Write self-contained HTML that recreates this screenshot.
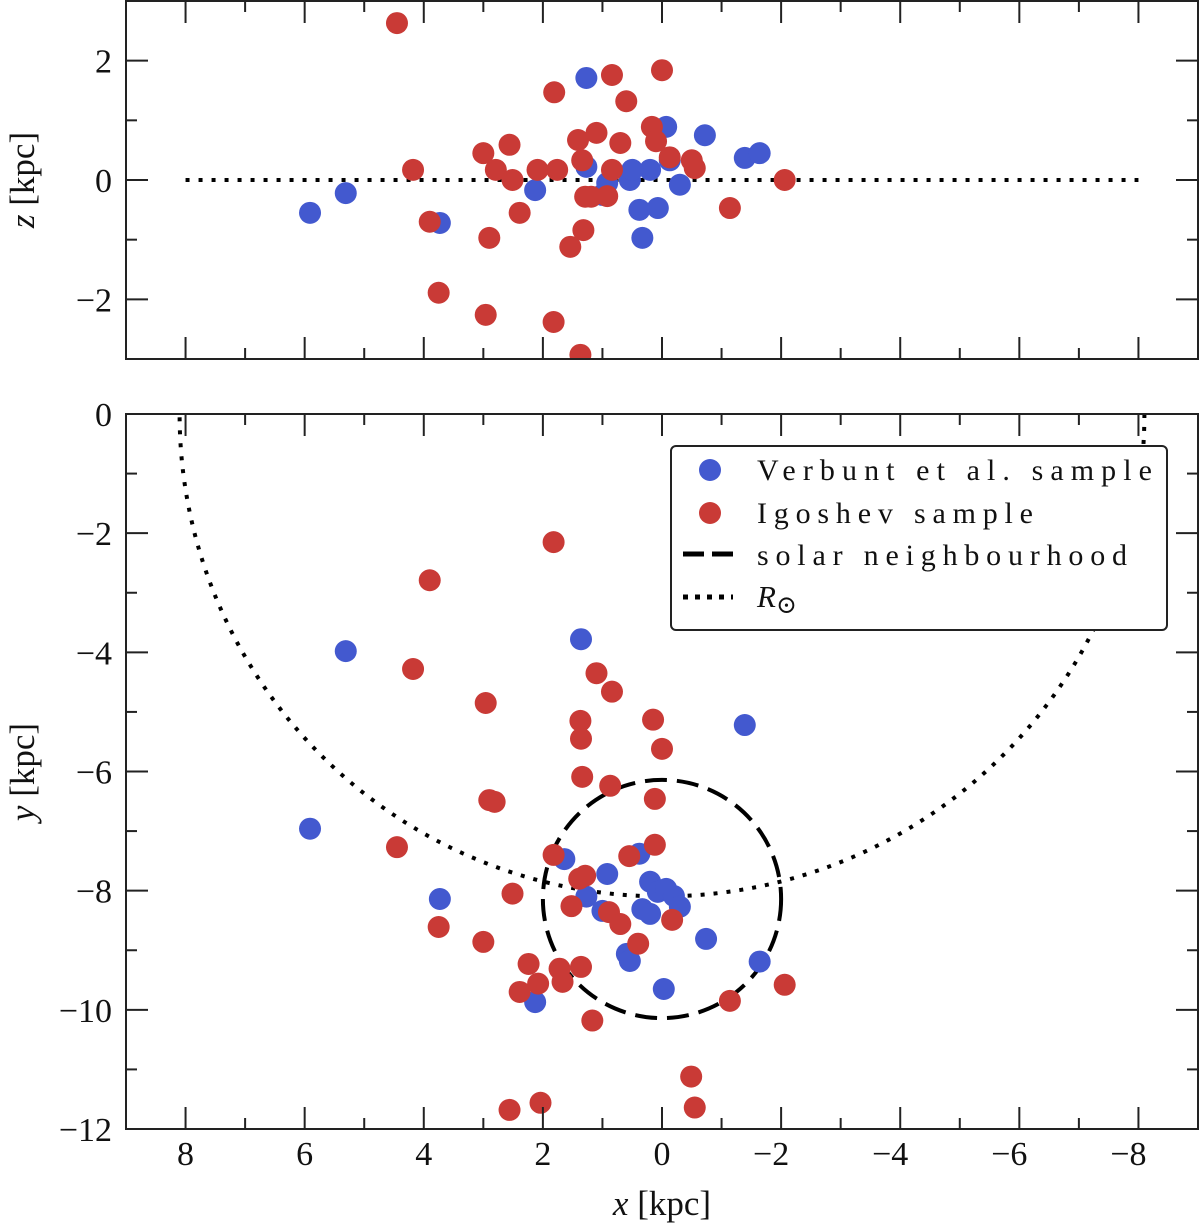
<!DOCTYPE html>
<html><head><meta charset="utf-8"><style>
body{margin:0;background:#fff}
svg text{font-family:"Liberation Serif","DejaVu Serif",serif;fill:#111}
</style></head><body>
<svg id="c" width="1200" height="1225" xmlns="http://www.w3.org/2000/svg"></svg>
<script>
const topBlueX=[5.91,5.31,3.73,1.27,1.27,2.13,1.00,0.92,0.54,0.38,0.33,0.20,0.07,-0.07,-0.13,-0.30,-0.72,-1.39,-1.64,0.50];
const topBlueZ=[-0.55,-0.22,-0.72,1.71,0.22,-0.17,-0.25,-0.05,0,-0.50,-0.97,0.17,-0.47,0.89,0.33,-0.08,0.75,0.37,0.45,0.17];
const topRedX=[4.45,4.18,3.90,3.75,3.00,2.96,2.90,2.79,2.56,2.51,2.39,2.09,1.82,1.81,1.76,1.54,1.41,1.37,1.34,1.32,1.29,1.19,1.10,0.84,0.84,0.70,0.60,0.17,0.10,0,-0.13,-0.50,-0.55,-1.14,-2.06,0.92];
const topRedZ=[2.63,0.17,-0.70,-1.89,0.45,-2.26,-0.97,0.17,0.59,0,-0.55,0.17,-2.38,1.47,0.17,-1.12,0.67,-2.93,0.33,-0.84,-0.28,-0.28,0.79,1.76,0.17,0.62,1.32,0.89,0.65,1.84,0.38,0.33,0.20,-0.47,0,-0.27];
const botBlueX=[5.91,5.31,3.73,1.36,-1.39,1.64,1.27,1.00,0.92,0.38,0.20,0.33,0.20,0.07,-0.07,-0.20,-0.30,0.59,0.54,-0.03,-0.74,-1.64,2.13];
const botBlueY=[-6.96,-3.98,-8.14,-3.78,-5.22,-7.47,-8.10,-8.34,-7.72,-7.38,-7.85,-8.31,-8.39,-8.02,-7.97,-8.09,-8.27,-9.06,-9.18,-9.65,-8.81,-9.19,-9.87];
const botRedX=[1.82,3.90,4.18,2.96,1.10,0.84,1.37,1.36,0.15,0,1.34,0.87,0.12,2.90,2.81,4.45,1.82,0.55,0.12,1.39,1.29,2.51,1.52,0.89,0.70,-0.17,3.75,3.00,0.40,2.24,1.72,1.36,1.67,2.39,2.08,-1.14,-2.06,1.17,-0.49,-0.55,2.56,2.04];
const botRedY=[-2.15,-2.79,-4.28,-4.85,-4.35,-4.66,-5.15,-5.45,-5.13,-5.62,-6.09,-6.24,-6.46,-6.48,-6.51,-7.27,-7.40,-7.42,-7.23,-7.80,-7.75,-8.05,-8.26,-8.36,-8.56,-8.49,-8.61,-8.86,-8.89,-9.23,-9.31,-9.28,-9.53,-9.70,-9.56,-9.85,-9.58,-10.18,-11.12,-11.64,-11.68,-11.56];
const xTicks=[8,6,4,2,0,-2,-4,-6,-8];
const zTicks=[2,0,-2];
const yTicks=[0,-2,-4,-6,-8,-10,-12];
const sunR=8.1, nbCenter=-8.14, nbR=2;

const NS="http://www.w3.org/2000/svg", svg=document.getElementById('c');
const L=126,R=1198,T1=1,B1=359,T2=414,B2=1129;
const sx=v=>L+(9-v)*(R-L)/18;
const sz=v=>T1+(3-v)*(B1-T1)/6;
const sy=v=>T2+(0-v)*(B2-T2)/12;
function el(t,a,p){const e=document.createElementNS(NS,t);for(const k in a)e.setAttribute(k,a[k]);(p||svg).appendChild(e);return e;}
function lab(x,y,s,anchor,p){const e=el('text',{x:x,y:y,'font-size':34,'text-anchor':anchor},p);e.textContent=s;return e;}

const defs=el('defs',{});
const cp1=el('clipPath',{id:'cp1'},defs);el('rect',{x:L,y:T1,width:R-L,height:B1-T1},cp1);
const cp2=el('clipPath',{id:'cp2'},defs);el('rect',{x:L,y:T2,width:R-L,height:B2-T2},cp2);

// top dotted z=0
const zl=el('line',{x1:sx(8),x2:sx(-8),y1:sz(0),y2:sz(0),stroke:'#000','stroke-width':4,'stroke-dasharray':'4 9'});

// bottom circles
const cg=el('g',{'clip-path':'url(#cp2)'});
const c1=el('circle',{cx:sx(0),cy:sy(0),r:sunR*(R-L)/18,fill:'none',stroke:'#000','stroke-width':4,'stroke-dasharray':'4 9'},cg);

const c2=el('circle',{cx:sx(0),cy:sy(nbCenter),r:nbR*(R-L)/18,fill:'none',stroke:'#000','stroke-width':4,'stroke-dasharray':'22 10'},cg);


function pts(xs,ys,fy,col,name,clipId){
  const g=el('g',{'clip-path':'url(#'+clipId+')'});
  
  xs.forEach((x,i)=>{const c=el('circle',{cx:sx(x),cy:fy(ys[i]),r:11,fill:col},g);
    });
}
const BL='#4359cf',RD='#c93a36';
pts(topBlueX,topBlueZ,sz,BL,'verbunt-xz','cp1');
pts(topRedX,topRedZ,sz,RD,'igoshev-xz','cp1');
pts(botBlueX,botBlueY,sy,BL,'verbunt-xy','cp2');
pts(botRedX,botRedY,sy,RD,'igoshev-xy','cp2');

function frame(T,B,yt,fy,name){
  const g=el('g',{});
  el('rect',{x:L,y:T,width:R-L,height:B-T,fill:'none',stroke:'#222','stroke-width':2},g);
  for(let v=-8;v<=8;v++){const M=v%2===0,len=M?22:11;
    el('line',{x1:sx(v),x2:sx(v),y1:B,y2:B-len,stroke:'#222','stroke-width':2},g);
    el('line',{x1:sx(v),x2:sx(v),y1:T,y2:T+len,stroke:'#222','stroke-width':2},g);}
  const lo=Math.min(...yt),hi=Math.max(...yt);
  for(let v=lo-1;v<=hi+1;v++){const yy=fy(v);if(yy<T-1||yy>B+1)continue;const M=yt.includes(v),len=M?22:11;
    el('line',{x1:L,x2:L+len,y1:yy,y2:yy,stroke:'#222','stroke-width':2},g);
    el('line',{x1:R,x2:R-len,y1:yy,y2:yy,stroke:'#222','stroke-width':2},g);}
  yt.forEach(v=>{const t=lab(L-14,fy(v)+12,v<0?'\u2212'+(-v):String(v),'end',g);
    });
}
frame(T1,B1,zTicks,sz,'top-panel-axes');
frame(T2,B2,yTicks,sy,'bottom-panel-axes');
xTicks.forEach(v=>{const t=lab(sx(v)+(v<0?-10:0),1165,v<0?'\u2212'+(-v):String(v),'middle');
  });
</script>
<svg style="position:absolute;left:0;top:0" width="1200" height="1225" xmlns="http://www.w3.org/2000/svg">
<text x="662" y="1215" font-size="35" text-anchor="middle"><tspan font-style="italic">x</tspan> [kpc]</text>
<text transform="translate(34,180) rotate(-90)" font-size="35" text-anchor="middle"><tspan font-style="italic">z</tspan> [kpc]</text>
<text transform="translate(34,772) rotate(-90)" font-size="35" text-anchor="middle"><tspan font-style="italic">y</tspan> [kpc]</text>
<g>
<rect x="671" y="446" width="496" height="184" rx="5" fill="#fff" stroke="#222" stroke-width="2"/>
<circle cx="710" cy="470" r="11" fill="#4359cf"/>
<text x="757" y="480" font-size="30" textLength="395" lengthAdjust="spacing">Verbunt et al. sample</text>
<circle cx="710" cy="513" r="11" fill="#c93a36"/>
<text x="757" y="523" font-size="30" textLength="276" lengthAdjust="spacing">Igoshev sample</text>
<line x1="683" x2="733" y1="554" y2="554" stroke="#000" stroke-width="5" stroke-dasharray="21 8"/>
<text x="757" y="565" font-size="30" textLength="370" lengthAdjust="spacing">solar neighbourhood</text>
<line x1="683" x2="733" y1="597" y2="597" stroke="#000" stroke-width="5" stroke-dasharray="5 7"/>
<text x="757" y="607" font-size="31"><tspan font-style="italic">R</tspan><tspan font-size="25" dy="6">⊙</tspan></text>
</g>
</svg>
</body></html>
